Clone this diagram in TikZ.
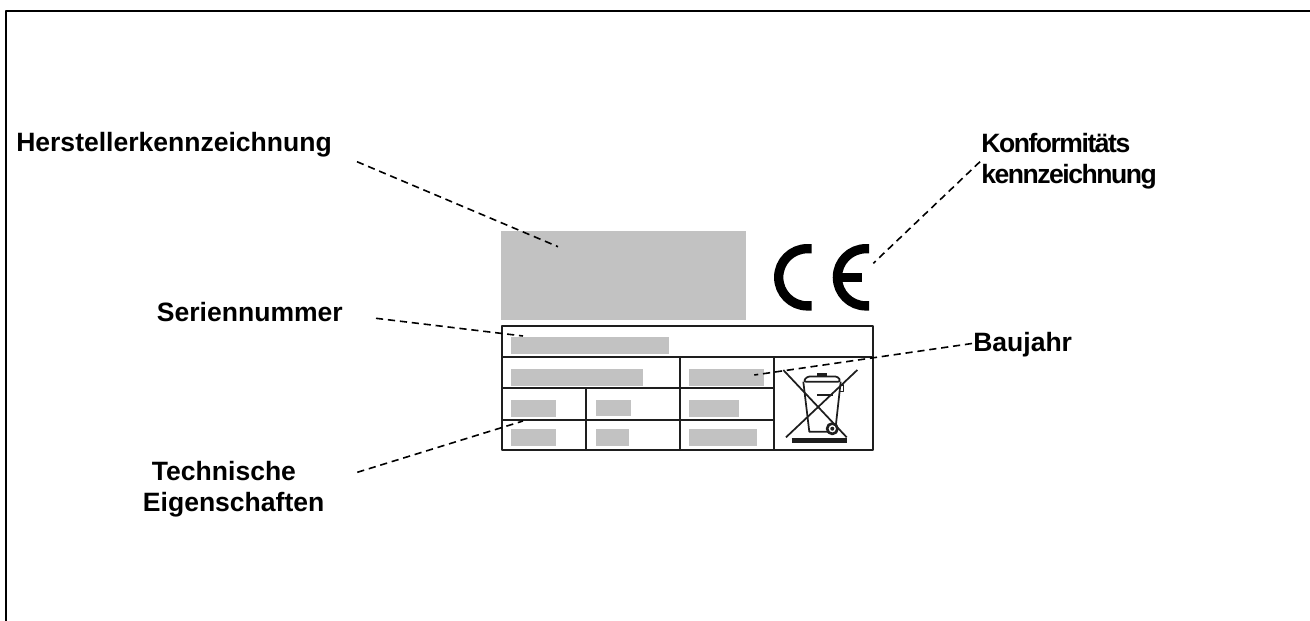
\documentclass[tikz,border=0pt]{standalone}
\usepackage{fontspec}
\setmainfont{Liberation Sans}

\definecolor{platefield}{RGB}{194,194,194}
\definecolor{plateline}{RGB}{30,30,30}

\tikzset{
    calloutlabel/.style={anchor=base west,inner sep=0pt,font=\fontsize{19.9}{23.25}\selectfont\bfseries},
    tightlabel/.style={calloutlabel,font=\fontsize{19.9}{23.25}\selectfont\bfseries\addfontfeature{LetterSpace=-5.5}},
    leader/.style={black,line width=1.2pt,dash pattern=on 5.4pt off 3.6pt},
    plategrid/.style={plateline,line width=1.35pt},
    binline/.style={plateline,line width=1.3pt},
    cestroke/.style={black,line width=7pt}
}

\begin{document}
\begin{tikzpicture}[x=0.75pt,y=-0.75pt,line join=round]
    \useasboundingbox (0,0) rectangle (1310,621);

    % Rahmen
    \draw[black,line width=1.5pt] (6,621) -- (6,11) -- (1310,11);

    % Graue Felder
    \fill[platefield] (501,231) rectangle (746,320);
    \fill[platefield] (510.7,337.3) rectangle (669,354);
    \fill[platefield] (510.7,369) rectangle (643.3,385.7);
    \fill[platefield] (689.3,369) rectangle (764,385.7);
    \fill[platefield] (510.7,400) rectangle (555.7,416.7);
    \fill[platefield] (595.7,400) rectangle (630.7,416);
    \fill[platefield] (689.3,400) rectangle (739.3,416.7);
    \fill[platefield] (510.7,429.3) rectangle (555.7,446);
    \fill[platefield] (595.7,429.3) rectangle (629,446);
    \fill[platefield] (689.3,429.3) rectangle (757.3,446);

    % Tabelle
    \draw[plategrid] (501.7,325.7) rectangle (873,450);
    \draw[plategrid] (501.7,356.7) -- (873,356.7);
    \draw[plategrid] (501.7,388) -- (774.3,388);
    \draw[plategrid] (501.7,420) -- (774.3,420);
    \draw[plategrid] (585.7,388) -- (585.7,450);
    \draw[plategrid] (680,356.7) -- (680,450);
    \draw[plategrid] (774.3,356.7) -- (774.3,450);

    % CE-Zeichen
    \draw[cestroke] (811.7,248.7) -- (807.3,248.7) arc (270:90:28.6) -- (811.7,305.9);
    \draw[cestroke] (869,248.7) -- (866,248.7) arc (270:90:28.6) -- (869,305.9);
    \draw[cestroke] (840,277.3) -- (861.7,277.3);

    % Muelltonne
    \draw[binline] (783.3,370) -- (846.7,437.3);
    \draw[binline] (857.3,370) -- (786,437.3);
    \draw[binline] (803.3,381.7) -- (809.3,431.7) -- (828,431.7);
    \draw[binline] (840.7,381.7) -- (836,424);
    \draw[binline,rounded corners=2pt] (803.3,381.7) -- (807,376.5) -- (838,376.5) -- (840.7,381.7) -- cycle;
    \draw[binline,line width=2.4pt] (817,374.5) -- (827,374.5);
    \draw[binline] (840.7,385) -- (843.5,385) -- (843.5,391.5) -- (840,391.5);
    \draw[plateline,line width=2pt] (817.3,395) -- (833.3,395);
    \draw[binline,line width=2pt] (832.3,428.7) circle (5.2);
    \fill[plateline] (832.3,428.7) circle (2);
    \draw[plateline,line width=4pt] (791.7,440.7) -- (847.3,440.7);

    % Beschriftungen
    \node[calloutlabel] (hersteller) at (16,151.7) {Herstellerkennzeichnung};
    \node[calloutlabel] (serie) at (156.7,321.7) {Seriennummer};
    \node[calloutlabel] (technisch) at (151.7,480.7) {Technische};
    \node[calloutlabel] (eigenschaft) at (142.7,511.7) {Eigenschaften};
    \node[tightlabel] (konform) at (981,152.3) {Konformitäts};
    \node[tightlabel] (kennz) at (981,183.3) {kennzeichnung};
    \node[calloutlabel] (baujahr) at (973,351) {Baujahr};

    % Hinweislinien
    \coordinate (herstellerA) at (357,161.7);
    \coordinate (herstellerB) at (558,246.7);
    \coordinate (serieA) at (376,318.3);
    \coordinate (serieB) at (523,336);
    \coordinate (technischA) at (357.3,472.3);
    \coordinate (technischB) at (523,421);
    \coordinate (baujahrA) at (972,343.5);
    \coordinate (baujahrB) at (754.3,375);
    \coordinate (konformA) at (980,161.7);
    \coordinate (konformB) at (873.3,263.3);
    \draw[leader] (herstellerA) -- (herstellerB);
    \draw[leader] (serieA) -- (serieB);
    \draw[leader] (technischA) -- (technischB);
    \draw[leader] (baujahrA) -- (baujahrB);
    \draw[leader] (konformA) -- (konformB);
\end{tikzpicture}
\end{document}
